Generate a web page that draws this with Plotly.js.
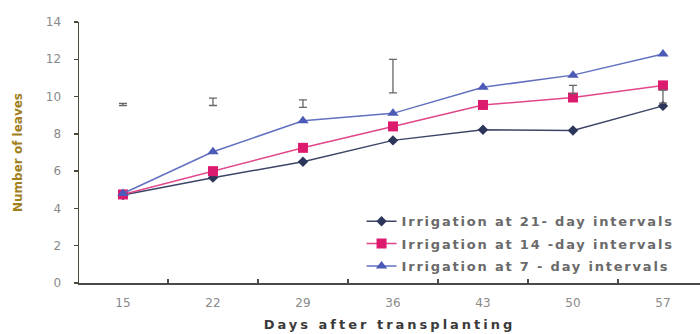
<!DOCTYPE html>
<html>
<head>
<meta charset="utf-8">
<script src="https://cdn.plot.ly/plotly-3.0.1.min.js"></script>
<style>
  html, body { margin: 0; padding: 0; background: #fff; }
  #chart { width: 700px; height: 334px; }
  .legendtext { letter-spacing: 1.8px; }
  .xtitle { letter-spacing: 3px; }
</style>
</head>
<body>
<div id="chart"></div>
<script>
// ---- data ----
const days = [15, 22, 29, 36, 43, 50, 57];
const seriesNames = [
  "Irrigation at 21- day intervals",
  "Irrigation at 14 -day intervals",
  "Irrigation at 7 - day intervals"
];
const leaves21 = [4.72, 5.65, 6.5, 7.65, 8.22, 8.18, 9.5];
const leaves14 = [4.75, 6.0, 7.25, 8.4, 9.55, 9.95, 10.6];
const leaves7  = [4.8, 7.04, 8.7, 9.1, 10.5, 11.15, 12.28];
const errDays  = [15, 22, 29, 36, 50, 57];
const errMid   = [9.58, 9.72, 9.62, 11.1, 10.38, 10.0];
const errHalf  = [0.06, 0.2, 0.2, 0.9, 0.22, 0.35];
const yTicks = [0, 2, 4, 6, 8, 10, 12, 14];

// boundaries between day categories (for the minor ticks on the x axis)
const boundaries = days.slice(0, -1).map((d, i) => (d + days[i + 1]) / 2);

const traces = [
  {
    x: days, y: leaves21, name: seriesNames[0], legendgroup: 'g21', type: 'scatter', mode: 'lines+markers',
    line: { color: '#3b4566', width: 1.5 },
    marker: { symbol: 'diamond', size: 8, color: '#2c365a' }
  },
  {
    x: days, y: leaves14, name: seriesNames[1], legendgroup: 'g14', type: 'scatter', mode: 'lines+markers',
    line: { color: '#e2468a', width: 1.5 },
    marker: { symbol: 'square', size: 10, color: '#dc1a6e' }
  },
  {
    x: days, y: leaves7, name: seriesNames[2], legendgroup: 'g7', type: 'scatter', mode: 'lines+markers',
    line: { color: '#6270c0', width: 1.5 },
    marker: { symbol: 'triangle-up', size: 10, color: '#4b5ab6' }
  },
  {
    x: errDays, y: errMid, type: 'scatter', mode: 'markers', showlegend: false,
    hoverinfo: 'skip',
    marker: { size: 1, color: 'rgba(0,0,0,0)' },
    error_y: { type: 'data', array: errHalf, visible: true, color: '#666', thickness: 1.3, width: 4 }
  },
  {
    x: boundaries, y: boundaries.map(() => 0), xaxis: 'x2', type: 'scatter', mode: 'markers',
    showlegend: false, hoverinfo: 'skip', marker: { size: 1, color: 'rgba(0,0,0,0)' }
  }
];

const xRange = [11.58, 59.88];
const layout = {
  width: 700, height: 334,
  margin: { l: 79, r: 0, t: 22, b: 51 },
  paper_bgcolor: '#ffffff', plot_bgcolor: '#ffffff',
  showlegend: true,
  legend: {
    x: 0.455, y: 0.294, xanchor: 'left', yanchor: 'top',
    bgcolor: 'rgba(255,255,255,0)', borderwidth: 0,
    font: { family: 'DejaVu Sans', size: 13, color: '#6a6a6a', weight: 'bold' },
    tracegroupgap: 2.5
  },
  xaxis: {
    range: xRange, tickvals: days, ticktext: days.map(String),
    ticks: '', showgrid: false, zeroline: false,
    showline: true, linecolor: '#4a4a4a', linewidth: 1.5,
    tickfont: { family: 'DejaVu Sans', size: 12, color: '#8a8a8a' },
    ticklabelstandoff: 8,
    title: {
      text: 'Days after transplanting',
      font: { family: 'DejaVu Sans', size: 13, color: '#3a3a3a', weight: 'bold' },
      standoff: 11
    }
  },
  xaxis2: {
    overlaying: 'x', anchor: 'y', side: 'bottom', range: xRange,
    tickvals: boundaries, showticklabels: false,
    ticks: 'inside', ticklen: 4, tickwidth: 1.3, tickcolor: '#4a4a4a',
    showgrid: false, zeroline: false, showline: false
  },
  yaxis: {
    range: [0, 14], tickvals: yTicks, ticktext: yTicks.map(String),
    ticks: 'outside', ticklen: 4, tickwidth: 1.3, tickcolor: '#4d4a38',
    showgrid: false, zeroline: false,
    showline: true, linecolor: '#4d4a38', linewidth: 1.5,
    tickfont: { family: 'DejaVu Sans', size: 12, color: '#8a8a8a' },
    ticklabelstandoff: 10,
    title: {
      text: 'Number of leaves',
      font: { family: 'DejaVu Sans', size: 12, color: '#a07f1c', weight: 'bold' },
      standoff: 20
    }
  }
};

Plotly.newPlot('chart', traces, layout, { staticPlot: true, displayModeBar: false });
</script>
</body>
</html>
